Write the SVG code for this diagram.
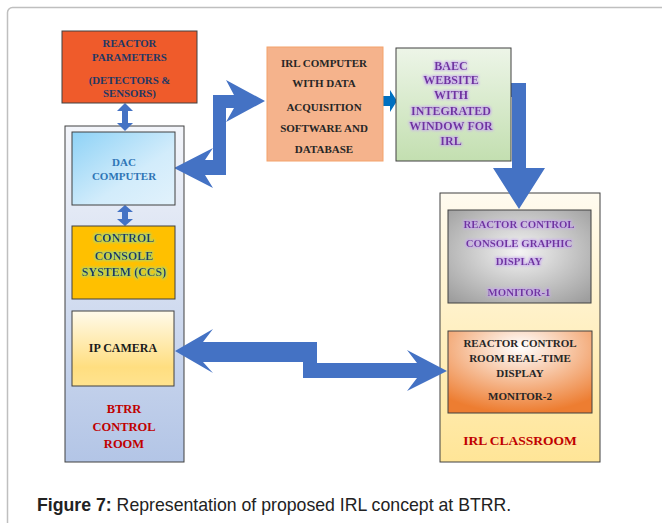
<svg xmlns="http://www.w3.org/2000/svg" width="662" height="523" viewBox="0 0 662 523">
<style>
.t{font-family:"Liberation Serif","Times New Roman",serif;font-weight:bold;text-anchor:middle}
.box{stroke:#404040;stroke-width:1}
.arr{fill:#4472C4}
.cap{font-family:"Liberation Sans",Arial,sans-serif;font-size:17.7px;fill:#222}
</style>
<defs>
<linearGradient id="gBtrr" x1="0" y1="0" x2="0" y2="1"><stop offset="0" stop-color="#F3F5FA"/><stop offset="1" stop-color="#B3C5E6"/></linearGradient>
<linearGradient id="gDac" x1="0" y1="0" x2="1" y2="1"><stop offset="0" stop-color="#8ED2F6"/><stop offset="0.6" stop-color="#D2ECFB"/><stop offset="1" stop-color="#E2F2FC"/></linearGradient>
<linearGradient id="gCam" x1="0" y1="0" x2="0" y2="1"><stop offset="0" stop-color="#FFFAEB"/><stop offset="0.75" stop-color="#FFDE80"/><stop offset="1" stop-color="#FFE38F"/></linearGradient>
<linearGradient id="gCls" x1="0" y1="0" x2="0" y2="1"><stop offset="0" stop-color="#FFFBF0"/><stop offset="1" stop-color="#FFE597"/></linearGradient>
<linearGradient id="gBaec" x1="0" y1="0" x2="0" y2="1"><stop offset="0" stop-color="#EDF5E8"/><stop offset="1" stop-color="#C3DFB0"/></linearGradient>
<radialGradient id="gMon1" cx="0.5" cy="0.45" r="0.7"><stop offset="0" stop-color="#F4F4F4"/><stop offset="1" stop-color="#9E9E9E"/></radialGradient>
<radialGradient id="gMon2" cx="0.5" cy="0.2" r="0.8"><stop offset="0" stop-color="#FFFFFF"/><stop offset="1" stop-color="#ED7D31"/></radialGradient>
<filter id="glowG" x="-20%" y="-60%" width="140%" height="220%">
<feMorphology in="SourceAlpha" operator="dilate" radius="1" result="d"/>
<feGaussianBlur in="d" stdDeviation="1.2" result="b"/>
<feFlood flood-color="#A8D86E" flood-opacity="0.9"/>
<feComposite in2="b" operator="in" result="g"/>
<feMerge><feMergeNode in="g"/><feMergeNode in="SourceGraphic"/></feMerge>
</filter>
<filter id="glowP" x="-20%" y="-60%" width="140%" height="220%">
<feMorphology in="SourceAlpha" operator="dilate" radius="1" result="d"/>
<feGaussianBlur in="d" stdDeviation="1.2" result="b"/>
<feFlood flood-color="#C7A6F0" flood-opacity="0.8"/>
<feComposite in2="b" operator="in" result="g"/>
<feMerge><feMergeNode in="g"/><feMergeNode in="SourceGraphic"/></feMerge>
</filter>
</defs>

<rect x="7.5" y="7.5" width="700" height="600" rx="5" fill="#FFFFFF" stroke="#BFBFBF" stroke-width="1.5"/>

<g id="btrr-room">
<rect class="box" x="65" y="126" width="119" height="336" fill="url(#gBtrr)" stroke="#595959"/>
<text class="t" font-size="12.5" fill="#C00000"><tspan x="124" y="413">BTRR</tspan><tspan x="124" y="431">CONTROL</tspan><tspan x="124" y="448">ROOM</tspan></text>
</g>

<g id="irl-classroom">
<rect class="box" x="440" y="193" width="160" height="269" fill="url(#gCls)" stroke="#595959"/>
<text class="t" x="520" y="445" font-size="13.5" fill="#C00000">IRL CLASSROOM</text>
</g>

<g id="connectors">
<path class="arr" d="M125,103 L133,111 L128,111 L128,123 L133,123 L125,131 L117,123 L122,123 L122,111 L117,111 Z"/>
<path class="arr" d="M125,205 L133,212 L128,212 L128,219 L133,219 L125,226 L117,219 L122,219 L122,212 L117,212 Z"/>
<path class="arr" d="M265,101 L226,80 L234,95 L213,95 L213,160 L205,160 L213,148 L174,168 L213,188 L205,175 L226,175 L226,108 L234,108 L226,122 Z"/>
<path fill="#0070C0" d="M383,96 L390,96 L390,90 L397,101 L390,112 L390,106 L383,106 Z"/>
<path class="arr" d="M508,83 L526,83 L526,168 L545,168 L519,209 L493,168 L512,168 L512,97 L508,97 Z"/>
<path class="arr" d="M175,351 L213,329 L203,342 L317,342 L317,363 L417,363 L407,350 L447,371 L407,391 L417,378 L303,378 L303,362 L203,362 L213,373 Z"/>
</g>

<g id="reactor-parameters">
<rect class="box" x="62" y="31" width="135" height="72" fill="#EF5B2B"/>
<text class="t" font-size="10.8" fill="#1F3864"><tspan x="129.5" y="47">REACTOR</tspan><tspan x="129.5" y="61">PARAMETERS</tspan><tspan x="129.5" y="84">(DETECTORS  &amp;</tspan><tspan x="129.5" y="97">SENSORS)</tspan></text>
</g>

<g id="dac-computer">
<rect class="box" x="72" y="132" width="103" height="73" fill="url(#gDac)"/>
<text class="t" font-size="11" fill="#2E75B6"><tspan x="124" y="165.5">DAC</tspan><tspan x="124" y="179.5">COMPUTER</tspan></text>
</g>

<g id="ccs">
<rect class="box" x="72" y="226" width="103" height="73" fill="#FFC000"/>
<text class="t" font-size="12" fill="#1F3864" filter="url(#glowG)"><tspan x="124" y="242">CONTROL</tspan><tspan x="124" y="259.5">CONSOLE</tspan><tspan x="124" y="276">SYSTEM (CCS)</tspan></text>
</g>

<g id="ip-camera">
<rect class="box" x="72" y="311" width="102" height="75" fill="url(#gCam)"/>
<text class="t" x="123" y="352" font-size="12" fill="#1A1A1A">IP CAMERA</text>
</g>

<g id="irl-computer">
<rect x="267" y="47" width="116" height="114" fill="#F5B38C" stroke="#F4A26B" stroke-width="1"/>
<text class="t" font-size="11" fill="#262626"><tspan x="324" y="66.5">IRL COMPUTER</tspan><tspan x="324" y="87">WITH DATA</tspan><tspan x="324" y="110.5">ACQUISITION</tspan><tspan x="324" y="132">SOFTWARE AND</tspan><tspan x="324" y="153">DATABASE</tspan></text>
</g>

<g id="baec-website">
<rect class="box" x="396" y="48" width="115" height="113" fill="url(#gBaec)"/>
<text class="t" font-size="12" fill="#7030A0" filter="url(#glowP)"><tspan x="451" y="69.5">BAEC</tspan><tspan x="451" y="83.5">WEBSITE</tspan><tspan x="451" y="98.5">WITH</tspan><tspan x="451" y="115">INTEGRATED</tspan><tspan x="451" y="130">WINDOW FOR</tspan><tspan x="451" y="145">IRL</tspan></text>
</g>

<g id="monitor-1">
<rect class="box" x="448" y="210" width="143" height="93" fill="url(#gMon1)"/>
<text class="t" font-size="10.8" fill="#7030A0" filter="url(#glowP)"><tspan x="519" y="228">REACTOR  CONTROL</tspan><tspan x="519" y="246.5">CONSOLE GRAPHIC</tspan><tspan x="519" y="265">DISPLAY</tspan><tspan x="519" y="296">MONITOR-1</tspan></text>
</g>

<g id="monitor-2">
<rect class="box" x="448" y="331" width="144" height="82" fill="url(#gMon2)"/>
<text class="t" font-size="11" fill="#262626"><tspan x="520" y="347">REACTOR  CONTROL</tspan><tspan x="520" y="362">ROOM REAL-TIME</tspan><tspan x="520" y="376.5">DISPLAY</tspan><tspan x="520" y="400">MONITOR-2</tspan></text>
</g>

<text class="cap" x="37" y="511"><tspan font-weight="bold">Figure 7:</tspan> Representation of proposed IRL concept at BTRR.</text>
</svg>
